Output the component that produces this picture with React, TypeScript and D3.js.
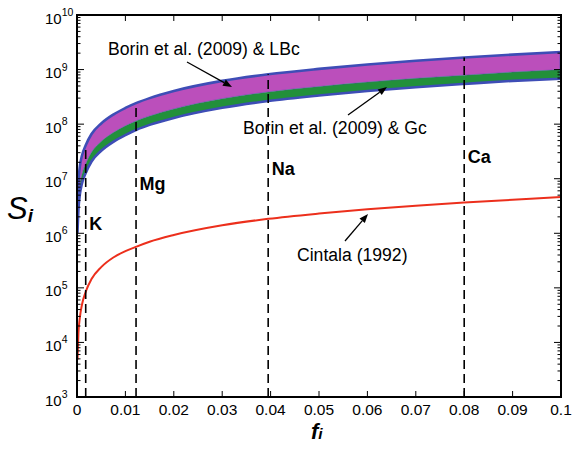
import React from 'react';
import * as d3 from 'd3';

// mass fraction samples and the S_i values
const fValues = [0.0001, 0.0003, 0.0006, 0.001, 0.0018, 0.003, 0.005, 0.0075, 0.01, 0.0123, 0.015, 0.02, 0.03, 0.0395, 0.05, 0.06, 0.07, 0.08, 0.09, 0.1];
const lbcUpper = [3.5e6, 9e6, 1.7e7, 2.6e7, 4.1e7, 6.6e7, 1.03e8, 1.5e8, 1.98e8, 2.45e8, 3.0e8, 4.05e8, 6.2e8, 8.2e8, 1.03e9, 1.24e9, 1.45e9, 1.66e9, 1.88e9, 2.1e9];
const bandBoundary = [1.6e6, 4.1e6, 7.7e6, 1.18e7, 1.87e7, 3.05e7, 4.8e7, 7.0e7, 9.3e7, 1.16e8, 1.41e8, 1.9e8, 2.93e8, 3.9e8, 4.9e8, 5.9e8, 6.9e8, 7.9e8, 9.0e8, 1.0e9];
const gcLower = [1.05e6, 2.75e6, 5.2e6, 8e6, 1.27e7, 2.07e7, 3.25e7, 4.75e7, 6.3e7, 7.9e7, 9.7e7, 1.3e8, 1.99e8, 2.65e8, 3.35e8, 4.05e8, 4.75e8, 5.45e8, 6.2e8, 6.8e8];
const cintala = [4.8e3, 1.5e4, 2.9e4, 4.8e4, 8.5e4, 1.45e5, 2.4e5, 3.6e5, 4.7e5, 5.7e5, 7e5, 9.3e5, 1.4e6, 1.84e6, 2.3e6, 2.75e6, 3.2e6, 3.65e6, 4.1e6, 4.6e6];

const elementNames = ['K', 'Mg', 'Na', 'Ca'];
const elementF = [0.0018, 0.0122, 0.0395, 0.08];
const elementTop = [4.1e7, 2.45e8, 8.2e8, 1.66e9];

const xTicks = [0, 0.01, 0.02, 0.03, 0.04, 0.05, 0.06, 0.07, 0.08, 0.09, 0.1];
const xTickLabels = ['0', '0.01', '0.02', '0.03', '0.04', '0.05', '0.06', '0.07', '0.08', '0.09', '0.1'];
const yExponents = [3, 4, 5, 6, 7, 8, 9, 10];

const W = 573;
const H = 450;
const left = 77, right = 561, top = 15, bottom = 397;
const font = '"Liberation Sans", Arial, sans-serif';

const rows = fValues.map((f, i) => ({ f, up: lbcUpper[i], mid: bandBoundary[i], lo: gcLower[i], c: cintala[i] }));

const Arrow = ({ x1, y1, x2, y2 }: { x1: number; y1: number; x2: number; y2: number }) => {
  const a = Math.atan2(y2 - y1, x2 - x1);
  const len = 9, wid = 3.5;
  const bx = x2 - len * Math.cos(a), by = y2 - len * Math.sin(a);
  const px = -Math.sin(a) * wid, py = Math.cos(a) * wid;
  return (
    <g>
      <line x1={x1} y1={y1} x2={bx} y2={by} stroke="#000" strokeWidth={1.3} />
      <path d={`M${x2},${y2}L${bx + px},${by + py}L${bx - px},${by - py}Z`} fill="#000" />
    </g>
  );
};

export default function App() {
  const x = d3.scaleLinear().domain([0, 0.1]).range([left, right]);
  const y = d3.scaleLog().domain([1e3, 1e10]).range([bottom, top]);

  const curve = d3.curveMonotoneX;
  const magenta = d3.area<any>().x(d => x(d.f)).y0(d => y(d.mid)).y1(d => y(d.up)).curve(curve);
  const green = d3.area<any>().x(d => x(d.f)).y0(d => y(d.lo)).y1(d => y(d.mid)).curve(curve);
  const outline = d3.area<any>().x(d => x(d.f)).y0(d => y(d.lo)).y1(d => y(d.up)).curve(curve);
  const midLine = d3.line<any>().x(d => x(d.f)).y(d => y(d.mid)).curve(curve);
  const redLine = d3.line<any>().x(d => x(d.f)).y(d => y(d.c)).curve(curve);

  const yMinor = y.ticks();
  const labelY = [230, 190, 175, 163];

  return (
    <svg width={W} height={H} style={{ position: 'absolute', left: 0, top: 0, background: '#fff' }} fontFamily={font}>
      <defs>
        <clipPath id="plot">
          <rect x={left} y={top} width={right - left} height={bottom - top} />
        </clipPath>
      </defs>

      <g clipPath="url(#plot)">
        <path d={magenta(rows) || ''} fill="#bb4fbb" />
        <path d={green(rows) || ''} fill="#22903a" />
        <path d={midLine(rows) || ''} fill="none" stroke="#4b4fae" strokeWidth={0.8} opacity={0.6} />
        <path d={outline(rows) || ''} fill="none" stroke="#3e4db6" strokeWidth={2.6} strokeLinejoin="round" />
        <path d={redLine(rows) || ''} fill="none" stroke="#ec2f1c" strokeWidth={2} />
        {elementF.map((f, i) => (
          <line key={elementNames[i]} x1={x(f)} x2={x(f)} y1={bottom} y2={y(elementTop[i])}
            stroke="#000" strokeWidth={1.6} strokeDasharray="9,5" />
        ))}
      </g>

      {/* element labels */}
      {elementF.map((f, i) => (
        <text key={'l' + i} x={x(f) + 3.5} y={labelY[i]} fontSize={18} fontWeight="bold">{elementNames[i]}</text>
      ))}

      {/* annotations */}
      <text x={108} y={55} fontSize={17.6}>Borin et al. (2009) &amp; LBc</text>
      <Arrow x1={187} y1={62} x2={232} y2={87} />
      <text x={243} y={134} fontSize={17.6}>Borin et al. (2009) &amp; Gc</text>
      <Arrow x1={348} y1={115} x2={387} y2={87} />
      <text x={297} y={261} fontSize={17.6}>Cintala (1992)</text>
      <Arrow x1={345} y1={241} x2={368} y2={214} />

      {/* y ticks, both sides */}
      {yMinor.map((t, i) => {
        const major = Math.abs(Math.log10(t) - Math.round(Math.log10(t))) < 1e-9;
        const l = major ? 7 : 3.5;
        return (
          <g key={'yt' + i}>
            <line x1={left} x2={left + l} y1={y(t)} y2={y(t)} stroke="#000" strokeWidth={1} />
            <line x1={right} x2={right - l} y1={y(t)} y2={y(t)} stroke="#000" strokeWidth={1} />
          </g>
        );
      })}
      {yExponents.map(e => (
        <text key={'yl' + e} x={45} y={y(Math.pow(10, e)) + 8.5} fontSize={15}>
          10<tspan fontSize={10.5} dy={-7.5}>{e}</tspan>
        </text>
      ))}

      {/* x ticks, both sides */}
      {xTicks.map((t, i) => (
        <g key={'xt' + i}>
          <line x1={x(t)} x2={x(t)} y1={bottom} y2={bottom - 6} stroke="#000" strokeWidth={1} />
          <line x1={x(t)} x2={x(t)} y1={top} y2={top + 6} stroke="#000" strokeWidth={1} />
          <text x={x(t)} y={415} fontSize={15.5} textAnchor="middle">{xTickLabels[i]}</text>
        </g>
      ))}

      <rect x={left} y={top} width={right - left} height={bottom - top} fill="none" stroke="#000" strokeWidth={2} />

      {/* axis titles */}
      <text x={7} y={219} fontSize={31} fontStyle="italic">S<tspan fontSize={19} fontWeight="bold" dy={3}>i</tspan></text>
      <text x={311} y={439} fontSize={22} fontStyle="italic" fontWeight="bold">f<tspan fontSize={15.5} dy={0}>i</tspan></text>
    </svg>
  );
}
